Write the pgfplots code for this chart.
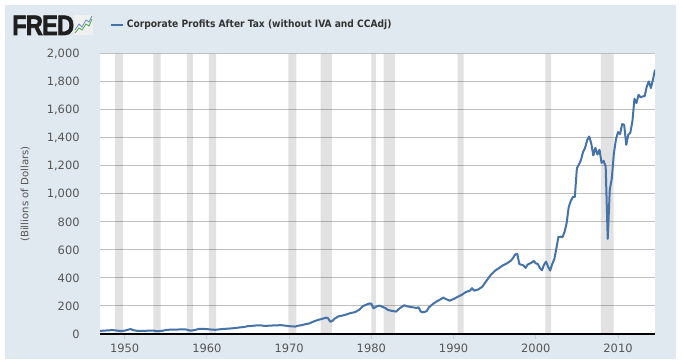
\documentclass[border=0pt]{standalone}
\usepackage{pgfplots}
\pgfplotsset{compat=1.18}
\usepackage{pgfplotstable}
\usepackage{fontspec}
\setmainfont{DejaVu Sans}
\newfontfamily\condfont{DejaVu Sans Condensed}
\newfontfamily\logofont[BoldFeatures={FakeBold=2.5}, LetterSpace=-3]{Liberation Sans}
\definecolor{fredbg}{HTML}{E1E9F0}
\definecolor{fredline}{HTML}{4572A7}
\definecolor{gridc}{HTML}{C0C0C0}
\definecolor{labc}{HTML}{555555}
\definecolor{titc}{HTML}{333333}
\definecolor{tickc}{HTML}{C0D0E0}

\pgfplotstableread{
year value
1947.00 22
1947.50 24
1948.00 26
1948.50 28
1949.00 25
1949.50 21
1950.00 24
1950.50 32
1950.75 35
1951.00 28
1951.50 23
1952.00 22
1952.50 22
1953.00 25
1953.50 24
1954.00 20
1954.50 22
1955.00 28
1955.50 31
1956.00 31
1956.50 32
1957.00 33
1957.50 32
1958.00 24
1958.50 28
1959.00 36
1959.50 37
1960.00 35
1960.50 32
1961.00 30
1961.50 33
1962.00 36
1962.50 38
1963.00 40
1963.50 43
1964.00 47
1964.50 50
1965.00 56
1965.50 58
1966.00 61
1966.50 62
1967.00 58
1967.50 59
1968.00 61
1968.50 62
1969.00 63
1969.50 60
1970.00 56
1970.50 54
1970.75 53
1971.00 58
1971.50 63
1972.00 70
1972.50 76
1973.00 90
1973.50 100
1974.00 108
1974.50 117
1974.75 112
1975.00 88
1975.25 92
1975.50 108
1976.00 126
1976.50 132
1977.00 140
1977.50 150
1978.00 156
1978.50 172
1979.00 200
1979.50 212
1979.75 218
1980.00 216
1980.25 184
1980.50 192
1980.75 200
1981.00 203
1981.50 190
1981.75 184
1982.00 172
1982.50 165
1983.00 160
1983.50 186
1984.00 205
1984.50 196
1985.00 191
1985.50 186
1985.75 191
1986.00 160
1986.25 155
1986.50 158
1986.75 165
1987.00 190
1987.50 215
1988.00 235
1988.50 250
1988.75 260
1989.00 252
1989.50 238
1990.00 250
1990.50 265
1991.00 280
1991.50 300
1992.00 310
1992.25 327
1992.50 310
1993.00 318
1993.50 338
1994.00 380
1994.50 420
1995.00 450
1995.50 470
1996.00 490
1996.50 505
1997.00 525
1997.25 545
1997.50 568
1997.75 572
1998.00 500
1998.50 490
1998.75 472
1999.00 495
1999.50 510
1999.75 522
2000.00 505
2000.25 500
2000.50 470
2000.75 455
2001.00 495
2001.25 517
2001.50 480
2001.75 453
2002.00 500
2002.25 534
2002.50 610
2002.75 693
2003.00 695
2003.25 691
2003.50 730
2003.75 791
2004.00 905
2004.25 950
2004.50 977
2004.75 980
2005.00 1185
2005.25 1210
2005.50 1244
2005.75 1300
2006.00 1330
2006.25 1385
2006.50 1411
2006.75 1360
2007.00 1275
2007.25 1330
2007.50 1282
2007.75 1316
2008.00 1222
2008.25 1237
2008.50 1196
2008.75 679
2009.00 1030
2009.25 1113
2009.50 1292
2009.75 1390
2010.00 1442
2010.25 1428
2010.50 1499
2010.75 1494
2011.00 1351
2011.25 1423
2011.50 1439
2011.75 1518
2012.00 1680
2012.25 1650
2012.50 1709
2012.75 1690
2013.00 1697
2013.25 1700
2013.50 1768
2013.75 1804
2014.00 1757
2014.25 1816
2014.50 1888
}\cpdata

\pgfplotsset{recession/.style={fill=black, fill opacity=0.115, draw=none, forget plot}}

\begin{document}
\begin{tikzpicture}[x=0.75pt,y=0.75pt]
\fill[white] (0,0) rectangle (682,364);
\fill[fredbg] (5,5) rectangle (676,359);
% FRED logo
\node[anchor=base west, font=\logofont\bfseries\fontsize{21}{21}\selectfont, text=black!88, xscale=0.84, inner sep=0pt] at (12,329) {FRED};
\fill[black!6] (74,329) rectangle (93,349);
\draw[green!50!black!70, line width=0.6pt] (75,331) -- (79,336) -- (82,334) -- (86,340) -- (89,338) -- (92,345);
\draw[fredline!80, line width=0.6pt] (75,334) -- (79,340) -- (82,337) -- (86,344) -- (89,342) -- (92,348);
% plot area
\fill[white] (100,30) rectangle (655,310);
\begin{axis}[
  at={(75pt,22.5pt)}, anchor=south west,
  scale only axis, width=416.25pt, height=210pt,
  xmin=1947, xmax=2014.5, ymin=0, ymax=2000,
  axis x line*=bottom, axis y line*=left,
  x axis line style={black, line width=1.5pt},
  y axis line style={draw=none},
  xtick={1950,1960,1970,1980,1990,2000,2010},
  xticklabels={1950,1960,1970,1980,1990,2000,2010},
  ytick={0,200,...,2000},
  ymajorgrids, grid style={gridc, line width=0.75pt},
  tick align=outside,
  major tick length=3.75pt,
  xtick style={tickc, line width=0.75pt},
  ytick style={draw=none},
  ticklabel style={font=\fontsize{8.6}{10}\selectfont, text=labc},
  yticklabel style={xshift=-8pt, /pgf/number format/1000 sep={,}, /pgf/number format/assume math mode=true},
  ylabel={(Billions of Dollars)},
  ylabel style={at={(axis description cs:-0.135,0.5)}, anchor=center, font=\fontsize{7.6}{9}\selectfont, text=labc},
  legend style={at={(axis description cs:0.018,1.1036)}, anchor=west, draw=none, fill=none, inner sep=0pt,
    font=\condfont\bfseries\fontsize{7.6}{9}\selectfont, text=titc},
  legend image code/.code={\draw[#1, line width=1.5pt] (0pt,0pt) -- (9pt,0pt);},
  clip=true,
]
\addplot[recession] coordinates {(1948.83,0) (1948.83,2000) (1949.79,2000) (1949.79,0)} \closedcycle;
\addplot[recession] coordinates {(1953.50,0) (1953.50,2000) (1954.37,2000) (1954.37,0)} \closedcycle;
\addplot[recession] coordinates {(1957.58,0) (1957.58,2000) (1958.29,2000) (1958.29,0)} \closedcycle;
\addplot[recession] coordinates {(1960.25,0) (1960.25,2000) (1961.12,2000) (1961.12,0)} \closedcycle;
\addplot[recession] coordinates {(1969.92,0) (1969.92,2000) (1970.87,2000) (1970.87,0)} \closedcycle;
\addplot[recession] coordinates {(1973.83,0) (1973.83,2000) (1975.21,2000) (1975.21,0)} \closedcycle;
\addplot[recession] coordinates {(1980.00,0) (1980.00,2000) (1980.54,2000) (1980.54,0)} \closedcycle;
\addplot[recession] coordinates {(1981.50,0) (1981.50,2000) (1982.87,2000) (1982.87,0)} \closedcycle;
\addplot[recession] coordinates {(1990.50,0) (1990.50,2000) (1991.21,2000) (1991.21,0)} \closedcycle;
\addplot[recession] coordinates {(2001.17,0) (2001.17,2000) (2001.87,2000) (2001.87,0)} \closedcycle;
\addplot[recession] coordinates {(2007.92,0) (2007.92,2000) (2009.46,2000) (2009.46,0)} \closedcycle;
\addplot[fredline, line width=1.5pt, line join=round] table[x=year, y=value] {\cpdata};
\addlegendentry{Corporate Profits After Tax (without IVA and CCAdj)}
\end{axis}
\end{tikzpicture}
\end{document}
